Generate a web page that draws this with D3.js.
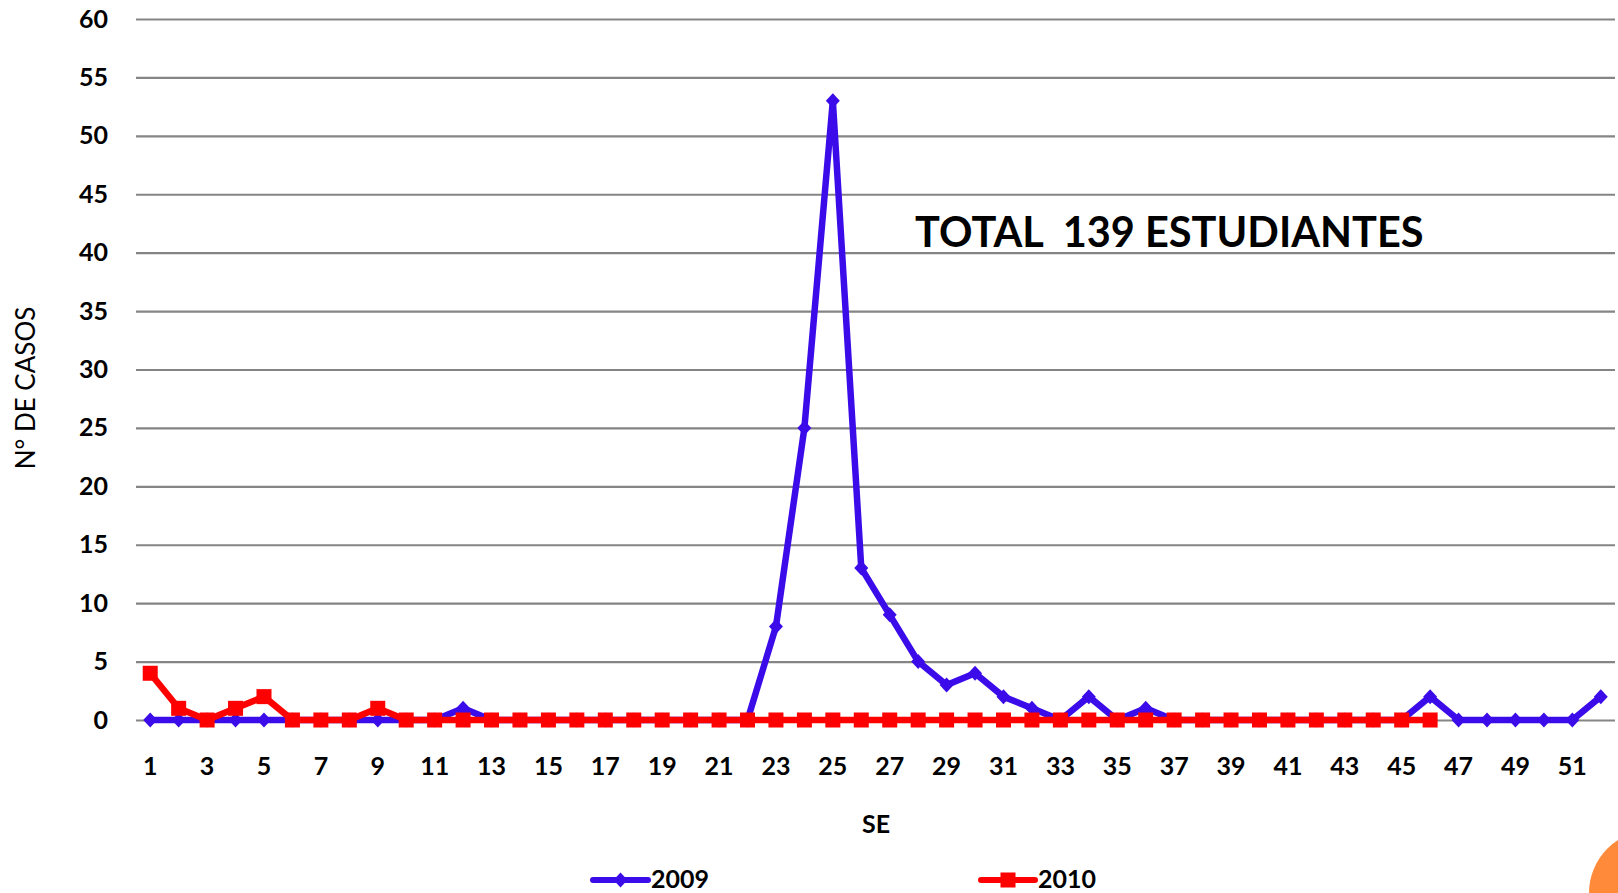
<!DOCTYPE html>
<html>
<head>
<meta charset="utf-8">
<script src="https://cdn.jsdelivr.net/npm/d3@7/dist/d3.min.js"></script>
<style>
  html, body { margin: 0; padding: 0; background: #ffffff; }
  svg { display: block; }
</style>
</head>
<body>
<svg id="chart" width="1618" height="893"></svg>
<script>
// ---- data ----
const weeks = d3.range(1, 53);
const series2009 = [0,0,0,0,0,0,0,0,0,0,0,1,0,0,0,0,0,0,0,0,0,0,8,25,53,13,9,5,3,4,2,1,0,2,0,1,0,0,0,0,0,0,0,0,0,2,0,0,0,0,0,2];
const series2010 = [4,1,0,1,2,0,0,0,1,0,0,0,0,0,0,0,0,0,0,0,0,0,0,0,0,0,0,0,0,0,0,0,0,0,0,0,0,0,0,0,0,0,0,0,0,0];
const yTicks = [0,5,10,15,20,25,30,35,40,45,50,55,60];
const xTickLabels = weeks.filter(w => w % 2 === 1);
const seriesNames = ["2009", "2010"];
const annotation = "TOTAL  139 ESTUDIANTES";
const yTitle = "N° DE CASOS";
const xTitle = "SE";

// ---- layout ----
const svg = d3.select("#chart");
const plotLeft = 136, plotRight = 1615, plotTop = 19, plotBottom = 720;
const blue = "#3B0CE9", red = "#FF0000", gridColor = "#858585";
const font = "Lato, 'Open Sans', sans-serif";

const x = d3.scaleBand().domain(weeks).range([plotLeft, plotRight]).padding(0);
const y = d3.scaleLinear().domain([0, 60]).range([plotBottom, plotTop]);
const cx = w => x(w) + x.bandwidth() / 2;

// decorative orange circle (slide ornament)
svg.append("circle").attr("cx", 1652).attr("cy", 893).attr("r", 63).attr("fill", "#FF8A3A");

// y axis with gridlines
const yAxis = svg.append("g").attr("transform", `translate(${plotLeft},0)`)
  .call(d3.axisLeft(y).tickValues(yTicks).tickSize(-(plotRight - plotLeft)).tickSizeOuter(0).tickPadding(28));
yAxis.select(".domain").remove();
yAxis.selectAll(".tick line").attr("stroke", gridColor).attr("stroke-width", 2.2);
yAxis.selectAll(".tick text").attr("fill", "#000").style("font-family", font)
  .style("font-weight", 700).style("font-size", "25px");

// x axis labels
const xAxis = svg.append("g").attr("transform", `translate(0,${plotBottom})`)
  .call(d3.axisBottom(x).tickValues(xTickLabels).tickSize(0).tickSizeOuter(0));
xAxis.select(".domain").remove();
xAxis.selectAll(".tick text").attr("y", 55).attr("dy", null).attr("fill", "#000")
  .style("font-family", font).style("font-weight", 700).style("font-size", "25px");

// titles
svg.append("text").attr("transform", "translate(35,388) rotate(-90)")
  .attr("text-anchor", "middle").style("font-family", font).style("font-size", "26px")
  .attr("fill", "#000").text(yTitle);
svg.append("text").attr("x", 876).attr("y", 833).attr("text-anchor", "middle")
  .style("font-family", font).style("font-weight", 700).style("font-size", "25px")
  .attr("fill", "#000").text(xTitle);
svg.append("text").attr("x", 915).attr("y", 247).style("font-family", font)
  .style("font-weight", 700).style("font-size", "41.5px").attr("fill", "#000")
  .style("white-space", "pre").attr("xml:space", "preserve").text(annotation);

// lines
const line = d3.line().x((d, i) => cx(weeks[i])).y(d => y(d));
const diamond = "M0,-7.5L7,0L0,7.5L-7,0Z";

svg.append("path").datum(series2009).attr("d", line).attr("fill", "none")
  .attr("stroke", blue).attr("stroke-width", 6.5).attr("stroke-linejoin", "round").attr("stroke-linecap", "round");
svg.append("g").selectAll("path").data(series2009).join("path")
  .attr("d", diamond).attr("fill", blue)
  .attr("transform", (d, i) => `translate(${cx(weeks[i])},${y(d)})`);

svg.append("path").datum(series2010).attr("d", line).attr("fill", "none")
  .attr("stroke", red).attr("stroke-width", 6.5).attr("stroke-linejoin", "round").attr("stroke-linecap", "round");
svg.append("g").selectAll("rect").data(series2010).join("rect")
  .attr("x", (d, i) => cx(weeks[i]) - 7.5).attr("y", d => y(d) - 7.5)
  .attr("width", 15).attr("height", 15).attr("fill", red);

// legend
const legend = [
  { name: seriesNames[0], color: blue, x1: 593, x2: 648, tx: 651, marker: "diamond" },
  { name: seriesNames[1], color: red, x1: 981, x2: 1035, tx: 1038, marker: "square" }
];
const lg = svg.append("g").selectAll("g").data(legend).join("g");
lg.append("line").attr("x1", d => d.x1).attr("x2", d => d.x2).attr("y1", 880).attr("y2", 880)
  .attr("stroke", d => d.color).attr("stroke-width", 6).attr("stroke-linecap", "round");
lg.filter(d => d.marker === "diamond").append("path").attr("d", diamond).attr("fill", blue)
  .attr("transform", d => `translate(${(d.x1 + d.x2) / 2},880)`);
lg.filter(d => d.marker === "square").append("rect")
  .attr("x", d => (d.x1 + d.x2) / 2 - 7.5).attr("y", 872.5).attr("width", 15).attr("height", 15).attr("fill", red);
lg.append("text").attr("x", d => d.tx).attr("y", 888).style("font-family", font)
  .style("font-weight", 700).style("font-size", "25px").attr("fill", "#000").text(d => d.name);
</script>
</body>
</html>
